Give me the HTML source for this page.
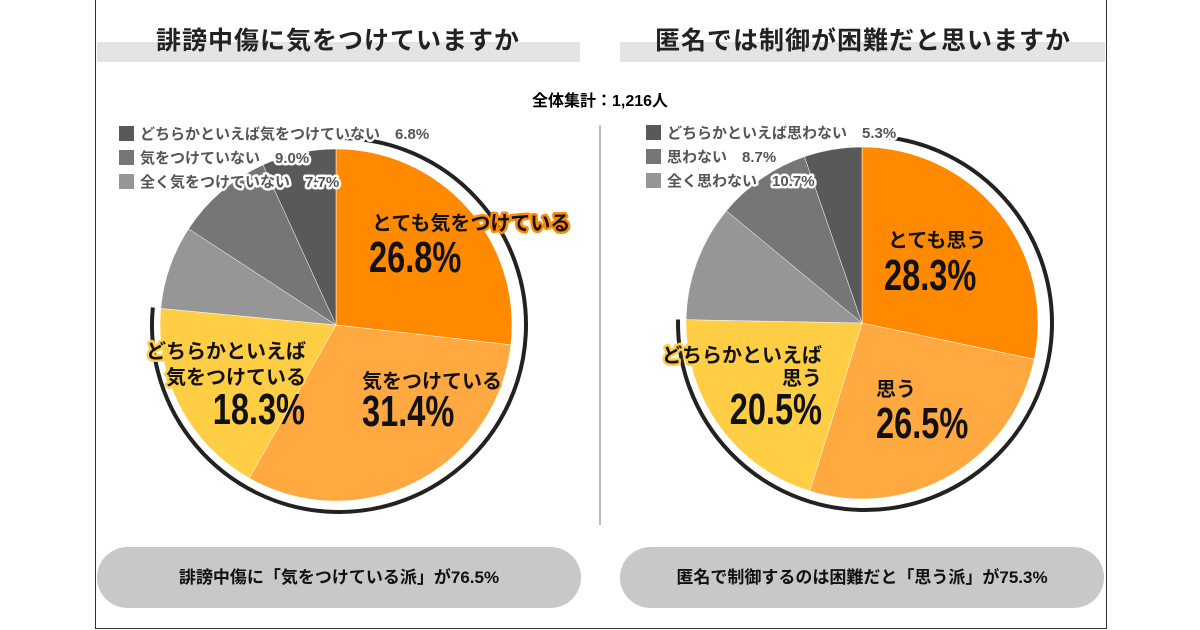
<!DOCTYPE html>
<html><head><meta charset="utf-8">
<style>
body{margin:0;width:1200px;height:630px;background:#fff;font-family:"Liberation Sans","Noto Sans CJK JP",sans-serif;position:relative;overflow:hidden}
.frame{position:absolute;left:95px;top:0;width:1010px;height:628px;border:1px solid #333;border-top:none}
.band{position:absolute;height:20px;background:#e4e4e4;top:42px}
.title{position:absolute;top:21px;font-size:25px;font-weight:bold;color:#222;text-align:center;width:490px;letter-spacing:1px}
.pill{position:absolute;top:547px;height:61px;width:484px;background:#c8c8c8;border-radius:31px;text-align:center;line-height:61px;font-size:17px;font-weight:bold;color:#111}
svg text{font-family:"Liberation Sans","Noto Sans CJK JP",sans-serif;font-weight:bold}
</style></head><body>
<div class="frame"></div>
<div class="band" style="left:97px;width:483px"></div>
<div class="band" style="left:620px;width:485px"></div>
<div class="title" style="left:93px">誹謗中傷に気をつけていますか</div>
<div class="title" style="left:618px">匿名では制御が困難だと思いますか</div>
<div style="position:absolute;left:0;width:1200px;top:87px;text-align:center;font-size:16px;font-weight:bold">全体集計：1,216人</div>
<div style="position:absolute;left:599px;top:125px;width:2px;height:400px;background:#bbb"></div>
<div class="pill" style="left:97px">誹謗中傷に「気をつけている派」が76.5%</div>
<div class="pill" style="left:620px">匿名で制御するのは困難だと「思う派」が75.3%</div>
<svg id="chart" width="1200" height="630" style="position:absolute;left:0;top:0"></svg>
<script>
const leftValues=[26.8,31.4,18.3,7.7,9.0,6.8];
const leftLegend=["どちらかといえば気をつけていない　6.8%","気をつけていない　9.0%","全く気をつけていない　7.7%"];
const rightValues=[28.3,26.5,20.5,10.7,8.7,5.3];
const rightLegend=["どちらかといえば思わない　5.3%","思わない　8.7%","全く思わない　10.7%"];
const colors=["#FF8A00","#FFA940","#FFCE44","#969696","#767676","#595959"];
const legendColors=["#595959","#767676","#969696"];
const NS="http://www.w3.org/2000/svg";
const svg=document.getElementById('chart');
function mk(t,a){const e=document.createElementNS(NS,t);for(const k in a)e.setAttribute(k,a[k]);svg.appendChild(e);return e;}
function pt(cx,cy,r,f){const a=f*2*Math.PI;return [cx+r*Math.sin(a),cy-r*Math.cos(a)];}
function pie(cx,cy,r,vals,prefix){
  const tot=vals.reduce((a,b)=>a+b,0);let c=0;
  vals.forEach((v,i)=>{
    const f0=c/tot,f1=(c+v)/tot;c+=v;
    const p0=pt(cx,cy,r,f0),p1=pt(cx,cy,r,f1);
    const p=mk('path',{d:`M${cx},${cy}L${p0[0]},${p0[1]}A${r},${r} 0 ${f1-f0>0.5?1:0} 1 ${p1[0]},${p1[1]}Z`,fill:colors[i],stroke:'#fff','stroke-width':0.5});
    
    
  });
  const pos=(vals[0]+vals[1]+vals[2])/tot;
  const R=r+11;const a0=pt(cx+3,cy,R,0.005),a1=pt(cx+3,cy,R,pos);
  const arc=mk('path',{d:`M${a0[0]},${a0[1]}A${R},${R} 0 ${pos>0.5?1:0} 1 ${a1[0]},${a1[1]}`,fill:'none',stroke:'#222','stroke-width':4});
  
  
}
function txt(x,y,s,size,stroke,anchor,name,fill){
  const t=mk('text',{x:x,y:y,'font-size':size,fill:fill||'#111','text-anchor':anchor||'start'});
  if(stroke){t.setAttribute('stroke',stroke);t.setAttribute('stroke-width',5);t.setAttribute('paint-order','stroke');t.setAttribute('stroke-linejoin','round');}
  t.textContent=s;
  
  
  return t;
}
function num(x,y,s,anchor,name){
  const t=mk('text',{x:0,y:0,'font-size':44,fill:'#111','text-anchor':anchor,transform:`translate(${x},${y}) scale(0.74,1)`});
  t.textContent=s;
  
  
}
function legend(x,y,items,prefix){
  items.forEach((s,i)=>{
    const r=mk('rect',{x:x,y:y+i*24-13,width:15,height:15,fill:legendColors[i]});
    
    
    txt(x+21,y+i*24,s,15,'#fff','start',prefix+'-legend-entry-'+i,'#555');
  });
}
pie(336,325,176,leftValues,'left');
pie(862,323,176,rightValues,'right');
legend(119,139,leftLegend,'left');
legend(646,138,rightLegend,'right');
txt(372,230,"とても気をつけている",20,'#FF8A00','start','left-label-0');
num(369,272,leftValues[0].toFixed(1)+"%",'start','left-value-0');
txt(362,388,"気をつけている",20,'#FFA940','start','left-label-1');
num(362,426,leftValues[1].toFixed(1)+"%",'start','left-value-1');
txt(306,358,"どちらかといえば",20,'#FFCE44','end','left-label-2a');
txt(306,384,"気をつけている",20,'#FFCE44','end','left-label-2b');
num(305,424,leftValues[2].toFixed(1)+"%",'end','left-value-2');
txt(888,247,"とても思う",20,'#FF8A00','start','right-label-0');
num(884,290,rightValues[0].toFixed(1)+"%",'start','right-value-0');
txt(876,396,"思う",20,'#FFA940','start','right-label-1');
num(876,438,rightValues[1].toFixed(1)+"%",'start','right-value-1');
txt(822,362,"どちらかといえば",20,'#FFCE44','end','right-label-2a');
txt(822,385,"思う",20,'#FFCE44','end','right-label-2b');
num(822,424,rightValues[2].toFixed(1)+"%",'end','right-value-2');
</script>
</body></html>
